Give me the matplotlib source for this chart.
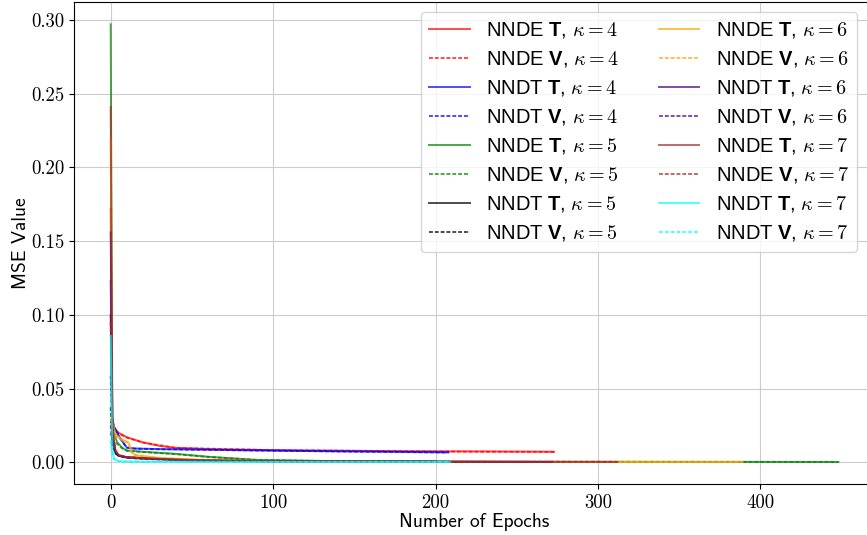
import matplotlib
matplotlib.use("Agg")
import matplotlib.pyplot as plt

plt.rcParams['font.family'] = ['Liberation Sans', 'DejaVu Sans']
plt.rcParams['mathtext.fontset'] = 'custom'
plt.rcParams['mathtext.rm'] = 'cmr10'
plt.rcParams['mathtext.it'] = 'cmmi10'
plt.rcParams['mathtext.bf'] = 'Liberation Sans:bold'
plt.rcParams['mathtext.fallback'] = 'cm'

# ---- data ----
nnde_t4_ep = [0, 1, 2, 3, 5, 10, 20, 30, 40, 60, 100, 150, 200, 273]
nnde_t4 = [0.172, 0.030, 0.024, 0.0222, 0.020, 0.0170, 0.0135, 0.0112, 0.0099, 0.0090, 0.0083, 0.0078, 0.0075, 0.0072]
nnde_v4_ep = [0, 1, 3, 5, 10, 20, 40, 100, 200, 273]
nnde_v4 = [0.028, 0.024, 0.021, 0.0195, 0.0168, 0.0134, 0.0098, 0.0083, 0.0074, 0.0071]

nndt_t4_ep = [0, 1, 2, 3, 5, 8, 10, 15, 30, 60, 100, 150, 208]
nndt_t4 = [0.123, 0.030, 0.024, 0.0225, 0.018, 0.013, 0.0100, 0.0094, 0.0090, 0.0086, 0.0080, 0.0074, 0.0068]
nndt_v4_ep = [0, 1, 3, 5, 8, 10, 15, 30, 60, 100, 150, 208]
nndt_v4 = [0.0586, 0.026, 0.0215, 0.0175, 0.0128, 0.0099, 0.0093, 0.0089, 0.0085, 0.0079, 0.0073, 0.0067]

nnde_t5_ep = [0, 1, 2, 4, 7, 10, 20, 40, 60, 90, 150, 250, 448]
nnde_t5 = [0.297, 0.030, 0.020, 0.0137, 0.0100, 0.0080, 0.0072, 0.0058, 0.0038, 0.0017, 0.0006, 0.0004, 0.0003]
nnde_v5_ep = [0, 1, 2, 4, 7, 10, 20, 40, 60, 90, 150, 250, 448]
nnde_v5 = [0.020, 0.016, 0.014, 0.0125, 0.0095, 0.0078, 0.0070, 0.0056, 0.0037, 0.0016, 0.0006, 0.0004, 0.0003]

nndt_t5_ep = [0, 1, 3, 5, 10, 20, 40, 70, 100, 200]
nndt_t5 = [0.100, 0.015, 0.0062, 0.0045, 0.0035, 0.0030, 0.0020, 0.0012, 0.0008, 0.0005]
nndt_v5_ep = [0, 1, 3, 5, 10, 20, 40, 70, 100, 200]
nndt_v5 = [0.0374, 0.012, 0.0060, 0.0044, 0.0034, 0.0029, 0.0019, 0.0011, 0.0008, 0.0005]

nnde_t6_ep = [0, 1, 3, 7, 11, 13, 15, 30, 60, 100, 200, 389]
nnde_t6 = [0.219, 0.028, 0.019, 0.0155, 0.0135, 0.0068, 0.0050, 0.0030, 0.0015, 0.0008, 0.0004, 0.0003]
nnde_v6_ep = [0, 1, 3, 7, 11, 13, 15, 30, 60, 100, 200, 389]
nnde_v6 = [0.030, 0.022, 0.018, 0.0150, 0.0130, 0.0066, 0.0049, 0.0029, 0.0015, 0.0008, 0.0004, 0.0003]

nndt_t6_ep = [0, 1, 3, 5, 10, 20, 50, 100, 272]
nndt_t6 = [0.156, 0.020, 0.0070, 0.0045, 0.0032, 0.0025, 0.0012, 0.0006, 0.0003]
nndt_v6_ep = [0, 1, 3, 5, 10, 20, 50, 100, 272]
nndt_v6 = [0.025, 0.016, 0.0068, 0.0044, 0.0031, 0.0024, 0.0012, 0.0006, 0.0003]

nnde_t7_ep = [0, 1, 3, 5, 10, 20, 50, 100, 200, 312]
nnde_t7 = [0.241, 0.025, 0.0080, 0.0050, 0.0035, 0.0028, 0.0015, 0.0008, 0.0004, 0.0003]
nnde_v7_ep = [0, 1, 3, 5, 10, 20, 50, 100, 200, 312]
nnde_v7 = [0.095, 0.020, 0.0078, 0.0049, 0.0034, 0.0027, 0.0015, 0.0008, 0.0004, 0.0003]

nndt_t7_ep = [0, 1, 2, 4, 8, 20, 100, 209]
nndt_t7 = [0.0857, 0.008, 0.003, 0.0012, 0.0006, 0.0004, 0.0003, 0.0003]
nndt_v7_ep = [0, 1, 2, 4, 8, 20, 100, 209]
nndt_v7 = [0.015, 0.005, 0.002, 0.0010, 0.0006, 0.0004, 0.0003, 0.0003]

series = [
    (nnde_t4_ep, nnde_t4, 'red', '-', r'NNDE $\mathbf{T}$, $\kappa=4$'),
    (nnde_v4_ep, nnde_v4, 'red', '--', r'NNDE $\mathbf{V}$, $\kappa=4$'),
    (nndt_t4_ep, nndt_t4, 'blue', '-', r'NNDT $\mathbf{T}$, $\kappa=4$'),
    (nndt_v4_ep, nndt_v4, 'blue', '--', r'NNDT $\mathbf{V}$, $\kappa=4$'),
    (nnde_t5_ep, nnde_t5, 'green', '-', r'NNDE $\mathbf{T}$, $\kappa=5$'),
    (nnde_v5_ep, nnde_v5, 'green', '--', r'NNDE $\mathbf{V}$, $\kappa=5$'),
    (nndt_t5_ep, nndt_t5, 'black', '-', r'NNDT $\mathbf{T}$, $\kappa=5$'),
    (nndt_v5_ep, nndt_v5, 'black', '--', r'NNDT $\mathbf{V}$, $\kappa=5$'),
    (nnde_t6_ep, nnde_t6, 'orange', '-', r'NNDE $\mathbf{T}$, $\kappa=6$'),
    (nnde_v6_ep, nnde_v6, 'orange', '--', r'NNDE $\mathbf{V}$, $\kappa=6$'),
    (nndt_t6_ep, nndt_t6, 'indigo', '-', r'NNDT $\mathbf{T}$, $\kappa=6$'),
    (nndt_v6_ep, nndt_v6, 'indigo', '--', r'NNDT $\mathbf{V}$, $\kappa=6$'),
    (nnde_t7_ep, nnde_t7, 'brown', '-', r'NNDE $\mathbf{T}$, $\kappa=7$'),
    (nnde_v7_ep, nnde_v7, 'brown', '--', r'NNDE $\mathbf{V}$, $\kappa=7$'),
    (nndt_t7_ep, nndt_t7, 'cyan', '-', r'NNDT $\mathbf{T}$, $\kappa=7$'),
    (nndt_v7_ep, nndt_v7, 'cyan', '--', r'NNDT $\mathbf{V}$, $\kappa=7$'),
]

xtick_vals = [0, 100, 200, 300, 400]
xtick_labels = ['0', '100', '200', '300', '400']
ytick_vals = [0.00, 0.05, 0.10, 0.15, 0.20, 0.25, 0.30]
ytick_labels = ['0.00', '0.05', '0.10', '0.15', '0.20', '0.25', '0.30']

fig = plt.figure(figsize=(8.67, 5.35), dpi=100)
ax = fig.add_axes([0.0857, 0.0948, 0.9232, 0.9007])

for ep, vals, col, ls, lab in series:
    style = '-' if ls == '-' else (0, (2, 1))
    ax.plot(ep, vals, color=col, linestyle=style, lw=1.4, alpha=0.7, label=lab)

ax.set_xlim(-22.4, 470.4)
ax.set_ylim(-0.01485, 0.31185)
ax.grid(True, color='#cccccc', lw=0.8)
ax.set_axisbelow(True)

ax.set_xticks(xtick_vals, labels=xtick_labels, fontfamily='cmr10', fontsize=13.5)
ax.set_yticks(ytick_vals, labels=ytick_labels, fontfamily='cmr10', fontsize=13.5)

ax.set_xlabel('Number of Epochs', fontfamily='cmss10', fontsize=14, labelpad=1)
ax.set_ylabel('MSE Value', fontfamily='cmss10', fontsize=14, labelpad=1)

ax.legend(ncol=2, loc='upper right', fontsize=14.5,
          bbox_to_anchor=(857 / 867, 1 - 12 / 535), bbox_transform=fig.transFigure,
          borderaxespad=0, labelspacing=0.45)

fig.savefig('out.png', dpi=100)
